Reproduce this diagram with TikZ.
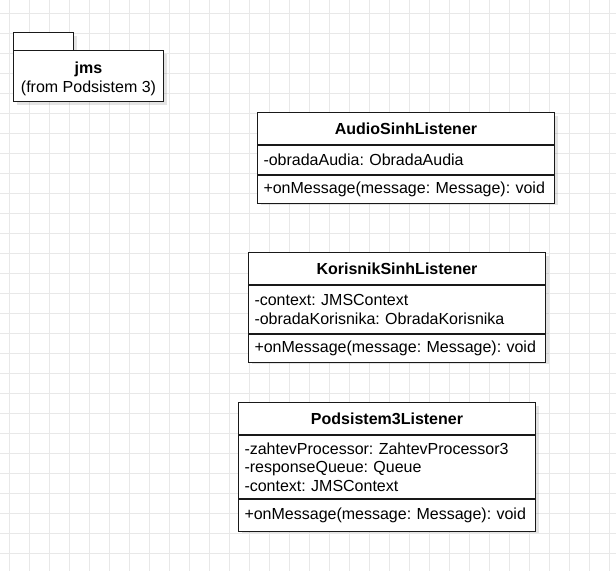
\documentclass[tikz,border=0pt]{standalone}
\usepackage{fontspec}
\setmainfont{Liberation Sans}
\usetikzlibrary{shadows}
\tikzset{
  gridline/.style={draw=black!9, line width=1pt},
  shad/.style={drop shadow={shadow xshift=3pt, shadow yshift=-3pt, opacity=0.15, fill=black!70}},
  umlbox/.style={draw=black!90, line width=1pt, fill=white, anchor=north west, inner sep=0pt},
  titlebox/.style={umlbox, align=center, font=\fontsize{16pt}{18.4pt}\selectfont\bfseries\frenchspacing},
  attrbox/.style={umlbox, inner xsep=6pt, inner ysep=0pt, align=left, text width=285pt, font=\fontsize{16pt}{18.4pt}\selectfont\frenchspacing},
  lbl/.style={align=center, font=\fontsize{16pt}{18.4pt}\selectfont\frenchspacing, inner sep=0pt}
}
\begin{document}
\begin{tikzpicture}[x=1pt,y=-1pt]
\useasboundingbox (0,0) rectangle (616,571);
\fill[white] (0,0) rectangle (616,571);
\foreach \gx in {9,29,...,609} \draw[gridline] (\gx,0) -- (\gx,571);
\foreach \gy in {13,33,...,563} \draw[gridline] (0,\gy) -- (616,\gy);

% package jms
\node[umlbox, shad, minimum width=60pt, minimum height=18pt] (jmsTab) at (13,32) {};
\node[umlbox, shad, minimum width=150pt, minimum height=51pt] (jms) at (13,50) {};
\node[lbl] (jmsL) at ([yshift=-3pt]jms.center) {\textbf{jms}\\(from Podsistem 3)};

% AudioSinhListener
\node[umlbox, shad, minimum width=297pt, minimum height=89pt] (aO) at (257,112) {};
\node[titlebox, minimum width=297pt, minimum height=32pt] (aT) at (257,112) {AudioSinhListener};
\node[attrbox, minimum height=29pt] (aA) at (aT.south west) {-obradaAudia: ObradaAudia};
\node[attrbox, minimum height=28pt] (aM) at (aA.south west) {\mbox{+onMessage(message: Message): void}};

% KorisnikSinhListener
\node[umlbox, shad, minimum width=297pt, minimum height=108pt] (kO) at (248,252) {};
\node[titlebox, minimum width=297pt, minimum height=32pt] (kT) at (248,252) {KorisnikSinhListener};
\node[attrbox, minimum height=48pt] (kA) at (kT.south west) {-context: JMSContext\\-obradaKorisnika: ObradaKorisnika};
\node[attrbox, minimum height=28pt] (kM) at (kA.south west) {\mbox{+onMessage(message: Message): void}};

% Podsistem3Listener
\node[umlbox, shad, minimum width=297pt, minimum height=127pt] (pO) at (238,402) {};
\node[titlebox, minimum width=297pt, minimum height=32pt] (pT) at (238,402) {Podsistem3Listener};
\node[attrbox, minimum height=63pt] (pA) at (pT.south west) {-zahtevProcessor: ZahtevProcessor3\\-responseQueue: Queue\\-context: JMSContext};
\node[attrbox, minimum height=32pt] (pM) at (pA.south west) {\mbox{+onMessage(message: Message): void}};
\end{tikzpicture}
\end{document}
